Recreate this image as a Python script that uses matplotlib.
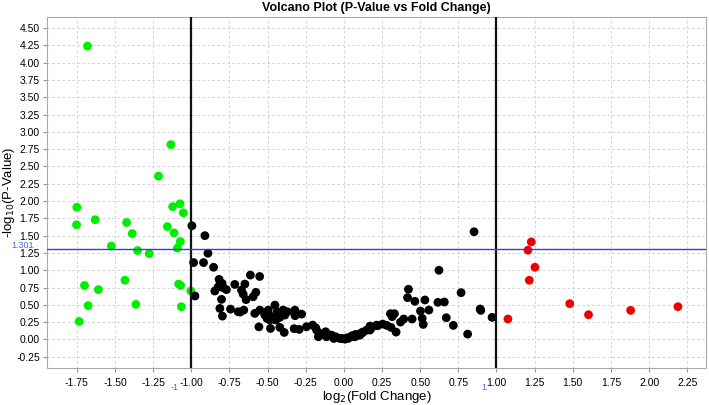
import matplotlib

matplotlib.use("Agg")
import matplotlib.pyplot as plt
import numpy as np

plt.rcParams["font.family"] = ["Liberation Sans", "DejaVu Sans"]

# log2 fold change and -log10 p-value of each feature
fold_change = [
    # down-regulated
    -1.68, -1.134, -1.215, -1.75, -1.752, -1.630, -1.424, -1.387, -1.524, -1.352,
    -1.276, -1.122, -1.074, -1.052, -1.157, -1.113, -1.072, -1.091, -1.435, -1.70,
    -1.609, -1.676, -1.363, -1.735, -1.083, -1.070, -1.065, -1.003,
    # up-regulated
    1.228, 1.206, 1.252, 1.215, 1.480, 1.603, 1.879, 2.189, 1.075,
    # not changed
    -0.996, -0.911, -0.891, -0.985, -0.920, -0.854, -0.976, -0.818, -0.798, -0.824,
    -0.846, -0.791, -0.770, -0.715, -0.649, -0.671, -0.660, -0.577, -0.595, -0.641,
    -0.613, -0.552, -0.802, -0.813, -0.796, -0.743, -0.693, -0.656, -0.680, -0.584,
    -0.551, -0.518, -0.496, -0.485, -0.452, -0.437, -0.420, -0.387, -0.398, -0.370,
    -0.321, -0.277, -0.320, -0.557, -0.481, -0.420, -0.391, -0.504, -0.467, -0.446,
    -0.326, -0.293, -0.245, -0.205, -0.185, -0.179, -0.162, -0.167, -0.136, -0.120,
    -0.114, -0.093, -0.081, -0.066, -0.054, -0.026, -0.011, 0.007, 0.022, 0.028,
    0.054, 0.072, 0.076, 0.105, 0.110, 0.122, 0.149, 0.171, 0.171, 0.182,
    0.214, 0.221, 0.254, 0.281, 0.305, 0.331, 0.316, 0.309, 0.342, 0.371,
    0.392, 0.447, 0.423, 0.417, 0.465, 0.531, 0.502, 0.557, 0.513, 0.520,
    0.616, 0.658, 0.623, 0.671, 0.717, 0.768, 0.811, 0.853, 0.893, 0.897,
    0.971, 0.079, 0.046, 0.123,
]
neg_log_p = [
    4.24, 2.816, 2.36, 1.91, 1.657, 1.73, 1.69, 1.53, 1.35, 1.285,
    1.24, 1.92, 1.96, 1.83, 1.63, 1.54, 1.415, 1.32, 0.855, 0.78,
    0.72, 0.488, 0.507, 0.26, 0.80, 0.78, 0.473, 0.70,
    1.41, 1.29, 1.043, 0.855, 0.517, 0.357, 0.42, 0.473, 0.295,
    1.643, 1.50, 1.246, 1.111, 1.111, 1.043, 0.628, 0.868, 0.81, 0.76,
    0.70, 0.747, 0.72, 0.795, 0.80, 0.713, 0.655, 0.68, 0.617, 0.575,
    0.93, 0.91, 0.579, 0.448, 0.337, 0.438, 0.40, 0.424, 0.396, 0.376,
    0.424, 0.352, 0.424, 0.279, 0.496, 0.40, 0.318, 0.352, 0.425, 0.40,
    0.424, 0.366, 0.343, 0.182, 0.159, 0.174, 0.101, 0.304, 0.329, 0.280,
    0.155, 0.145, 0.183, 0.207, 0.169, 0.135, 0.062, 0.039, 0.087, 0.111,
    0.038, 0.063, 0.062, 0.014, 0.039, 0.014, 0.014, 0.004, 0.024, 0.014,
    0.053, 0.038, 0.072, 0.062, 0.09, 0.096, 0.135, 0.135, 0.193, 0.174,
    0.207, 0.198, 0.222, 0.203, 0.372, 0.372, 0.329, 0.174, 0.106, 0.251,
    0.295, 0.295, 0.725, 0.604, 0.551, 0.570, 0.41, 0.425, 0.304, 0.217,
    0.536, 0.541, 1.0, 0.314, 0.203, 0.676, 0.077, 1.556, 0.44, 0.42,
    0.319, 0.053, 0.039, 0.106,
]

fc_threshold = 1.0
p_threshold = 1.301
x_ticks = np.arange(-1.75, 2.26, 0.25)
y_ticks = np.arange(-0.25, 4.51, 0.25)

fc = np.array(fold_change)
lp = np.array(neg_log_p)
colors = np.where(fc < -fc_threshold, "#00ee00",
                  np.where(fc > fc_threshold, "#ee0000", "#000000"))

fig = plt.figure(figsize=(7.09, 4.05), dpi=100, facecolor="white")
ax = fig.add_axes([0.066, 0.091, 0.93, 0.867])
ax.scatter(fc, lp, c=colors, s=40, edgecolors="none", zorder=3)

ax.axvline(-fc_threshold, color="#111111", linewidth=1.6, zorder=4)
ax.axvline(fc_threshold, color="#111111", linewidth=1.6, zorder=4)
ax.axhline(p_threshold, color="#3b3bdd", linewidth=1.0, zorder=4)

ax.set_xlim(-1.947, 2.374)
ax.set_ylim(-0.415, 4.66)
ax.set_xticks(x_ticks)
ax.set_yticks(y_ticks)
ax.set_xticklabels([f"{v:.2f}" for v in x_ticks])
ax.set_yticklabels([f"{v:.2f}" for v in y_ticks])
ax.tick_params(labelsize=7.5, length=3, color="#999999", pad=2)
ax.tick_params(axis="x", pad=4)
ax.grid(color="#cccccc", linestyle=(0, (3, 3)), linewidth=0.6)
ax.set_axisbelow(True)
for spine in ax.spines.values():
    spine.set_color("#aaaaaa")

ax.set_title("Volcano Plot (P-Value vs Fold Change)", fontsize=9,
             fontweight="bold", pad=4)
ax.set_xlabel("log$_2$(Fold Change)", fontsize=9.5, va="center")
ax.set_ylabel("-log$_{10}$(P-Value)", fontsize=9.5, va="center")
ax.xaxis.set_label_coords(0.5, -0.083)
ax.yaxis.set_label_coords(-0.057, 0.5)

# threshold annotations
ax.text(-2.03, p_threshold + 0.06, "1.301", color="#3b6fcf", fontsize=6.5,
        ha="right", va="center", clip_on=False)
ax.text(-1.085, -0.69, "-1", color="#3b6fcf", fontsize=6.5,
        ha="right", va="center", clip_on=False)
ax.text(0.935, -0.69, "1", color="#3b6fcf", fontsize=6.5,
        ha="right", va="center", clip_on=False)

fig.savefig("out.png", dpi=100)
